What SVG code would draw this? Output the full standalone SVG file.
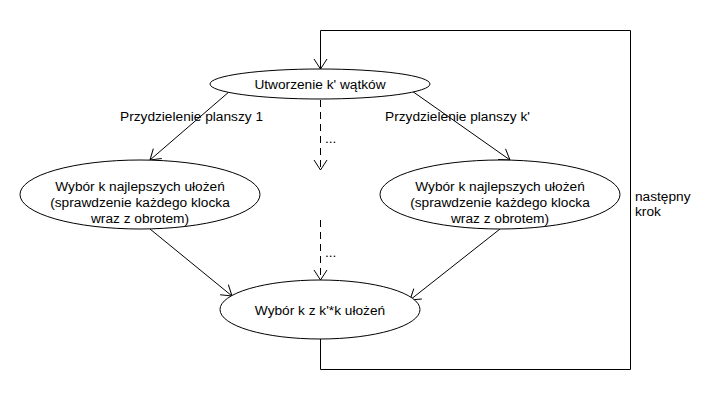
<svg xmlns="http://www.w3.org/2000/svg" width="720" height="410" viewBox="0 0 720 410">
<style>
.n{fill:#fff;stroke:#000;stroke-width:1}
.t{font-family:"Liberation Sans",Arial,sans-serif;font-size:13.7px;fill:#000}
.c{fill:none;stroke:#000;stroke-width:1}
.d{stroke-dasharray:7,5}
</style>
<defs>
<marker id="a" markerUnits="userSpaceOnUse" markerWidth="16" markerHeight="16" viewBox="0 0 16 16" refX="12" refY="8" orient="auto">
<path d="M2,1.5 L12,8 L2,14.5" fill="none" stroke="#000" stroke-width="1"/>
</marker>
</defs>
<rect width="720" height="410" fill="#fff"/>
<g id="connectors">
<path class="c" d="M320.5,339 V369.5 H630.5 V30.5 H320.5 V69" marker-end="url(#a)"/>
<line class="c" x1="230" y1="91" x2="150" y2="160" marker-end="url(#a)"/>
<line class="c" x1="412" y1="91" x2="510" y2="160" marker-end="url(#a)"/>
<line class="c" x1="150" y1="229" x2="232" y2="296" marker-end="url(#a)"/>
<line class="c" x1="500" y1="229" x2="410" y2="300" marker-end="url(#a)"/>
<line class="c d" x1="320.5" y1="100" x2="320.5" y2="170" marker-end="url(#a)"/>
<line class="c d" x1="320.5" y1="220" x2="320.5" y2="280" marker-end="url(#a)"/>
<text class="t" x="325" y="143">...</text>
<text class="t" x="325" y="257">...</text>
<text class="t" x="120" y="121">Przydzielenie planszy 1</text>
<text class="t" x="385" y="121">Przydzielenie planszy k'</text>
<text class="t" x="635" y="201">następny</text>
<text class="t" x="635" y="216">krok</text>
</g>
<g id="n1">
<ellipse class="n" cx="320" cy="84" rx="110" ry="15"/>
<text class="t" x="320" y="89" text-anchor="middle">Utworzenie k' wątków</text>
</g>
<g id="n2">
<ellipse class="n" cx="140" cy="194.5" rx="120" ry="34.5"/>
<text class="t" x="140" text-anchor="middle"><tspan x="140" y="191">Wybór k najlepszych ułożeń</tspan><tspan x="140" y="207">(sprawdzenie każdego klocka</tspan><tspan x="140" y="223">wraz z obrotem)</tspan></text>
</g>
<g id="n3">
<ellipse class="n" cx="500" cy="194.5" rx="120" ry="34.5"/>
<text class="t" x="500" text-anchor="middle"><tspan x="500" y="191">Wybór k najlepszych ułożeń</tspan><tspan x="500" y="207">(sprawdzenie każdego klocka</tspan><tspan x="500" y="223">wraz z obrotem)</tspan></text>
</g>
<g id="n4">
<ellipse class="n" cx="320" cy="309.5" rx="100" ry="29.5"/>
<text class="t" x="320" y="315" text-anchor="middle">Wybór k z k'*k ułożeń</text>
</g>
</svg>
